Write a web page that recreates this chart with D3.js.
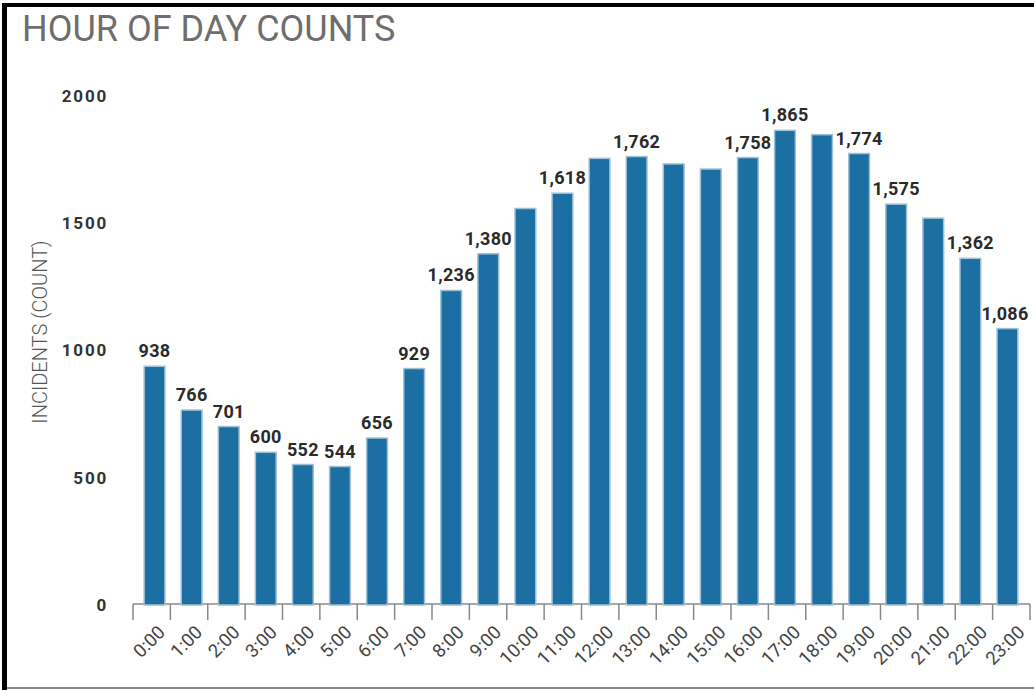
<!DOCTYPE html>
<html>
<head>
<meta charset="utf-8">
<script src="https://cdn.jsdelivr.net/npm/d3@7"></script>
<style>
  html, body { margin: 0; padding: 0; background: #fff; }
  svg { display: block; }
</style>
</head>
<body>
<script>
const hours = ["0:00","1:00","2:00","3:00","4:00","5:00","6:00","7:00","8:00","9:00","10:00","11:00","12:00","13:00","14:00","15:00","16:00","17:00","18:00","19:00","20:00","21:00","22:00","23:00"];
const counts = [938,766,701,600,552,544,656,929,1236,1380,1558,1618,1755,1762,1733,1713,1758,1865,1848,1774,1575,1520,1362,1086];
const showLabel = [1,1,1,1,1,1,1,1,1,1,0,1,0,1,0,0,1,1,0,1,1,0,1,1];
const yTicks = [0,500,1000,1500,2000];
const title = "HOUR OF DAY COUNTS";
const yTitle = "INCIDENTS (COUNT)";

const W = 1034, H = 690;
const svg = d3.select("body").append("svg").attr("width", W).attr("height", H);

// frame
svg.append("rect").attr("x", 2).attr("y", 3).attr("width", 5).attr("height", H - 3).attr("fill", "#000");
svg.append("rect").attr("x", 2).attr("y", 3).attr("width", W - 2).attr("height", 4).attr("fill", "#000");
svg.append("rect").attr("x", 7).attr("y", 687).attr("width", W - 7).attr("height", 2).attr("fill", "#888");

svg.append("text").attr("x", 22).attr("y", 41)
  .attr("font-family", "Roboto, sans-serif").attr("font-size", 36)
  .attr("fill", "#6e6e6e").text(title);

const x = d3.scaleBand().domain(hours).range([133, 1030]).paddingInner(0.44).paddingOuter(0.22);
const xb = d3.scaleBand().domain(hours).range([136, 1026]).paddingInner(0.44).paddingOuter(0.22);
const y = d3.scaleLinear().domain([0, 2000]).range([605, 96]);

// y tick labels (no axis line)
const yAxis = svg.append("g").attr("transform", "translate(108,0)")
  .call(d3.axisLeft(y).tickValues(yTicks).tickSize(0).tickPadding(0).tickFormat(d3.format("d")));
yAxis.select(".domain").remove();
yAxis.selectAll("text").attr("font-family", "Roboto, sans-serif").attr("font-weight", "bold")
  .attr("font-size", 17).attr("fill", "#333").attr("letter-spacing", "1.8px").attr("dy", "0.32em");

svg.append("text").attr("transform", "translate(47,332) rotate(-90)")
  .attr("text-anchor", "middle").attr("font-family", "Roboto, sans-serif").attr("font-weight", 300)
  .attr("font-size", 20).attr("fill", "#555").text(yTitle);

// x axis with ticks at band boundaries
const xg = svg.append("g").attr("transform", "translate(0,604)");
const [r0, r1] = x.range();
xg.append("line").attr("x1", r0).attr("x2", r1).attr("y1", 0).attr("y2", 0)
  .attr("stroke", "#888").attr("stroke-width", 1.5);
xg.selectAll("line.tk").data(d3.range(hours.length + 1)).join("line").attr("class", "tk")
  .attr("x1", i => r0 + i * x.step())
  .attr("x2", i => r0 + i * x.step())
  .attr("y1", 0).attr("y2", 16).attr("stroke", "#888").attr("stroke-width", 1.5);
xg.selectAll("text").data(hours).join("text")
  .attr("transform", d => `translate(${x(d) + x.bandwidth() / 2 + 5},${20}) rotate(-45)`)
  .attr("text-anchor", "end").attr("dy", "0.72em")
  .attr("font-family", "Roboto, sans-serif").attr("font-size", 18.5).attr("fill", "#444")
  .text(d => d);

// bars
svg.append("g").selectAll("rect").data(counts).join("rect")
  .attr("x", (d, i) => xb(hours[i]))
  .attr("y", d => y(d))
  .attr("width", xb.bandwidth())
  .attr("height", d => y(0) - y(d))
  .attr("fill", "#1c6fa3").attr("stroke", "#9fc0d4").attr("stroke-width", 1.5);

// value labels
const fmt = d3.format(",");
svg.append("g").selectAll("text").data(counts.map((c, i) => ({c, i})).filter(d => showLabel[d.i]))
  .join("text")
  .attr("x", d => Math.min(xb(hours[d.i]) + xb.bandwidth() / 2, W - 29))
  .attr("y", d => y(d.c) - 9)
  .attr("text-anchor", "middle")
  .attr("font-family", "Roboto, sans-serif").attr("font-weight", "bold").attr("font-size", 18)
  .attr("letter-spacing", "0.3px")
  .attr("fill", "#2a2a2a").attr("stroke", "#fff").attr("stroke-width", 3).attr("paint-order", "stroke")
  .text(d => fmt(d.c));
</script>
</body>
</html>
